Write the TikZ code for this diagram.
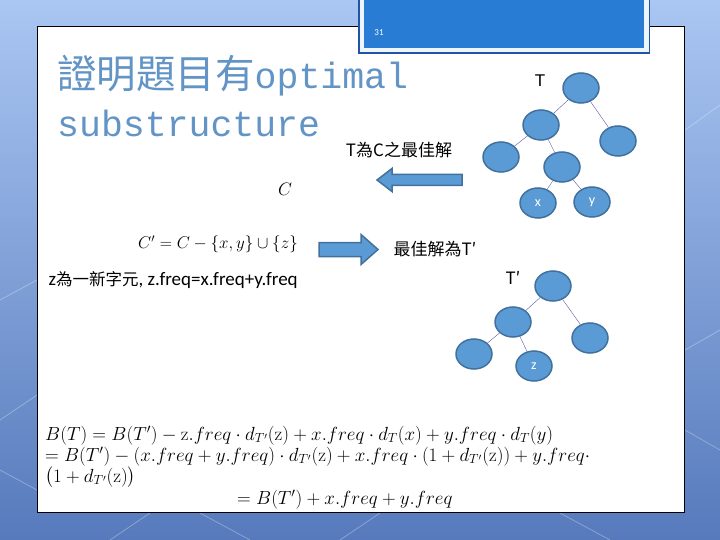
\RequirePackage{fix-cm}
\documentclass[tikz,border=0pt]{standalone}
\usepackage{amsmath}
\usepackage[no-math]{fontspec}
\setmainfont{Carlito}
\setsansfont{Liberation Sans}
\setmonofont{Liberation Mono}
\newfontfamily\cjk{Noto Sans CJK TC}
\usetikzlibrary{shapes.geometric, positioning}

\definecolor{bgtop}{RGB}{170,198,242}
\definecolor{bgbot}{RGB}{86,122,188}
\definecolor{titleblue}{RGB}{98,148,198}
\definecolor{nodefill}{RGB}{91,155,213}
\definecolor{nodeline}{RGB}{65,113,156}
\definecolor{slideblue}{RGB}{41,124,212}
\definecolor{slideedge}{RGB}{32,84,164}

\begin{document}
\begin{tikzpicture}[x=1pt, y=-1pt,
    tnode/.style={draw=nodeline, ellipse, fill=nodefill, line width=1.5pt, minimum width=36pt, minimum height=30pt, inner sep=0pt, text=white, font=\fontsize{14}{16}\selectfont},
    tedge/.style={draw=gray!70!blue, line width=0.4pt},
    blockarrow/.style={fill=nodefill, draw=nodeline, line width=1.5pt, line join=miter},
    bgline/.style={draw=white, opacity=0.3, line width=0.8pt},
    eqn/.style={anchor=base west, inner sep=0pt, font=\fontsize{19}{21}\selectfont}]
    \useasboundingbox (0,0) rectangle (720,540);

    % Slide background
    \shade[top color=bgtop, bottom color=bgbot] (0,0) rectangle (720,540);
    \draw[bgline] (0,300) -- (37,280);
    \draw[bgline] (0,420) -- (37,395);
    \draw[bgline] (0,470) -- (37,490);
    \draw[bgline] (685,130) -- (720,105);
    \draw[bgline] (685,350) -- (720,330);
    \draw[bgline] (685,430) -- (720,450);
    \draw[bgline] (110,540) -- (150,513);
    \draw[bgline] (200,513) -- (250,540);
    \draw[bgline] (340,540) -- (380,513);
    \draw[bgline] (560,513) -- (610,540);
    \draw[fill=white, line width=0.8pt] (37,26) rectangle (684,512);

    % Page number box
    \fill[slideedge] (358,-2) rectangle (650,54);
    \fill[white!92!slideblue] (359.5,-2) rectangle (648.5,52.5);
    \fill[slideblue] (364,-2) rectangle (644,48.5);
    \node[text=white, font=\fontsize{9}{10}\selectfont] (pagenum) at (379,33) {31};

    % Title
    \node[anchor=base west, inner sep=0pt, text=titleblue] (title1) at (57,89)
        {{\cjk\fontsize{39.5}{44}\selectfont 證明題目有}{\ttfamily\fontsize{36.5}{40}\selectfont optimal}};
    \node[anchor=base west, inner sep=0pt, text=titleblue] (title2) at (57,137)
        {\ttfamily\fontsize{36.5}{40}\selectfont substructure};

    % Tree T
    \node[font=\sffamily\fontsize{17}{20}\selectfont] (tlabel) at (540,81) {T};
    \node[tnode] (troot) at (581,88) {};
    \node[tnode] (ta) at (541,125) {};
    \node[tnode] (tb) at (618,141) {};
    \node[tnode] (tc) at (501,157) {};
    \node[tnode] (td) at (562,167) {};
    \node[tnode] (tx) at (538,203) {x};
    \node[tnode] (ty) at (592,202) {y};
    \draw[tedge] (troot) -- (ta);
    \draw[tedge] (troot) -- (tb);
    \draw[tedge] (ta) -- (tc);
    \draw[tedge] (ta) -- (td);
    \draw[tedge] (td) -- (tx);
    \draw[tedge] (td) -- (ty);

    % Tree T'
    \node[font=\sffamily\fontsize{17}{20}\selectfont] (tplabel) at (513,278) {{\cjk T′}};
    \node[tnode] (proot) at (553,286) {};
    \node[tnode] (pa) at (513,322) {};
    \node[tnode] (pb) at (590,338) {};
    \node[tnode] (pc) at (474,354) {};
    \node[tnode] (pz) at (534,366) {z};
    \draw[tedge] (proot) -- (pa);
    \draw[tedge] (proot) -- (pb);
    \draw[tedge] (pa) -- (pc);
    \draw[tedge] (pa) -- (pz);

    % Arrows and their captions
    \node[font=\cjk\fontsize{17}{20}\selectfont] (optT) at (399,150) {T為C之最佳解};
    \draw[blockarrow] (462,174.5) -- (392,174.5) -- (392,168.5) -- (377,180)
        -- (392,191.5) -- (392,185.5) -- (462,185.5) -- cycle;
    \draw[blockarrow] (319,242.5) -- (361,242.5) -- (361,234.5) -- (378,249.5)
        -- (361,264.5) -- (361,256.5) -- (319,256.5) -- cycle;
    \node[font=\cjk\fontsize{17}{20}\selectfont] (optTp) at (435,249) {最佳解為T′};

    % Character sets
    \node[font=\fontsize{18}{20}\selectfont] (cset) at (285,189) {$C$};
    \node[font=\fontsize{17}{20}\selectfont] (cpset) at (218,244) {$C' = C - \{x, y\} \cup \{z\}$};
    \node[anchor=west, font=\fontsize{19}{22}\selectfont] (znote) at (45,280)
        {z{\cjk\fontsize{16.5}{20}\selectfont 為一新字元}, z.freq=x.freq+y.freq};

    % Cost of T
    \node[eqn] (eq1) at (45,440) {$B(T) = B(T') - \mathrm{z}.freq \cdot d_{T'}(\mathrm{z}) + x.freq \cdot d_T(x) + y.freq \cdot d_T(y)$};
    \node[eqn] (eq2) at (45,461) {$= B(T') - (x.freq + y.freq) \cdot d_{T'}(\mathrm{z}) + x.freq \cdot (1 + d_{T'}(\mathrm{z})) + y.freq \cdot$};
    \node[eqn] (eq3) at (45,482) {$\bigl(1 + d_{T'}(\mathrm{z})\bigr)$};
    \node[eqn] (eq4) at (237,504) {$= B(T') + x.freq + y.freq$};
\end{tikzpicture}
\end{document}
